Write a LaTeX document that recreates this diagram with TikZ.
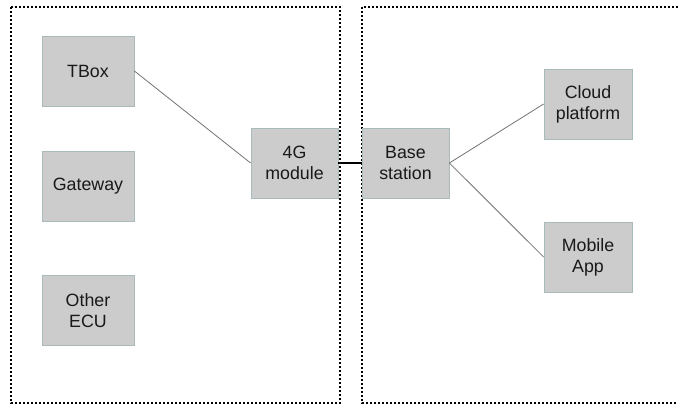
\documentclass[tikz,border=0pt]{standalone}
\usepackage{fontspec}
\setmainfont{Liberation Sans}
\begin{document}
\begin{tikzpicture}[x=1pt,y=-1pt,
  blk/.style={draw=boxedge, fill=boxfill, line width=0.8pt, minimum width=92pt, minimum height=70pt,
    inner sep=0pt, align=center, font=\fontsize{17.8}{21}\selectfont, text=black!90},
  frame/.style={draw=black, line width=1.8pt, dash pattern=on 2.2pt off 1.8pt},
  link/.style={draw=black!55, line width=0.8pt}]
\definecolor{boxfill}{HTML}{CCCCCC}
\definecolor{boxedge}{HTML}{A9BABA}
\clip (0,0) rectangle (678,405);
\draw[frame] (11,7) rectangle (340,403);
\draw[frame] (362,7) rectangle (700,403);
\node[blk] (tbox) at (88,71) {TBox};
\node[blk] (gw) at (88,186) {Gateway};
\node[blk] (ecu) at (88,310.5) {Other\\ECU};
\node[blk, minimum width=87pt] (g4) at (294.5,163) {4G\\module};
\node[blk, minimum width=87pt] (bs) at (405.5,163) {Base\\station};
\node[blk, minimum width=88pt] (cloud) at (588,104) {Cloud\\platform};
\node[blk, minimum width=88pt] (app) at (588,257) {Mobile\\App};
\draw[link] (tbox.east) -- (g4.west);
\draw[link] (bs.east) -- (cloud.west);
\draw[link] (bs.east) -- (app.west);
\draw[black, line width=2pt] (g4.east) -- (bs.west);
\end{tikzpicture}
\end{document}
